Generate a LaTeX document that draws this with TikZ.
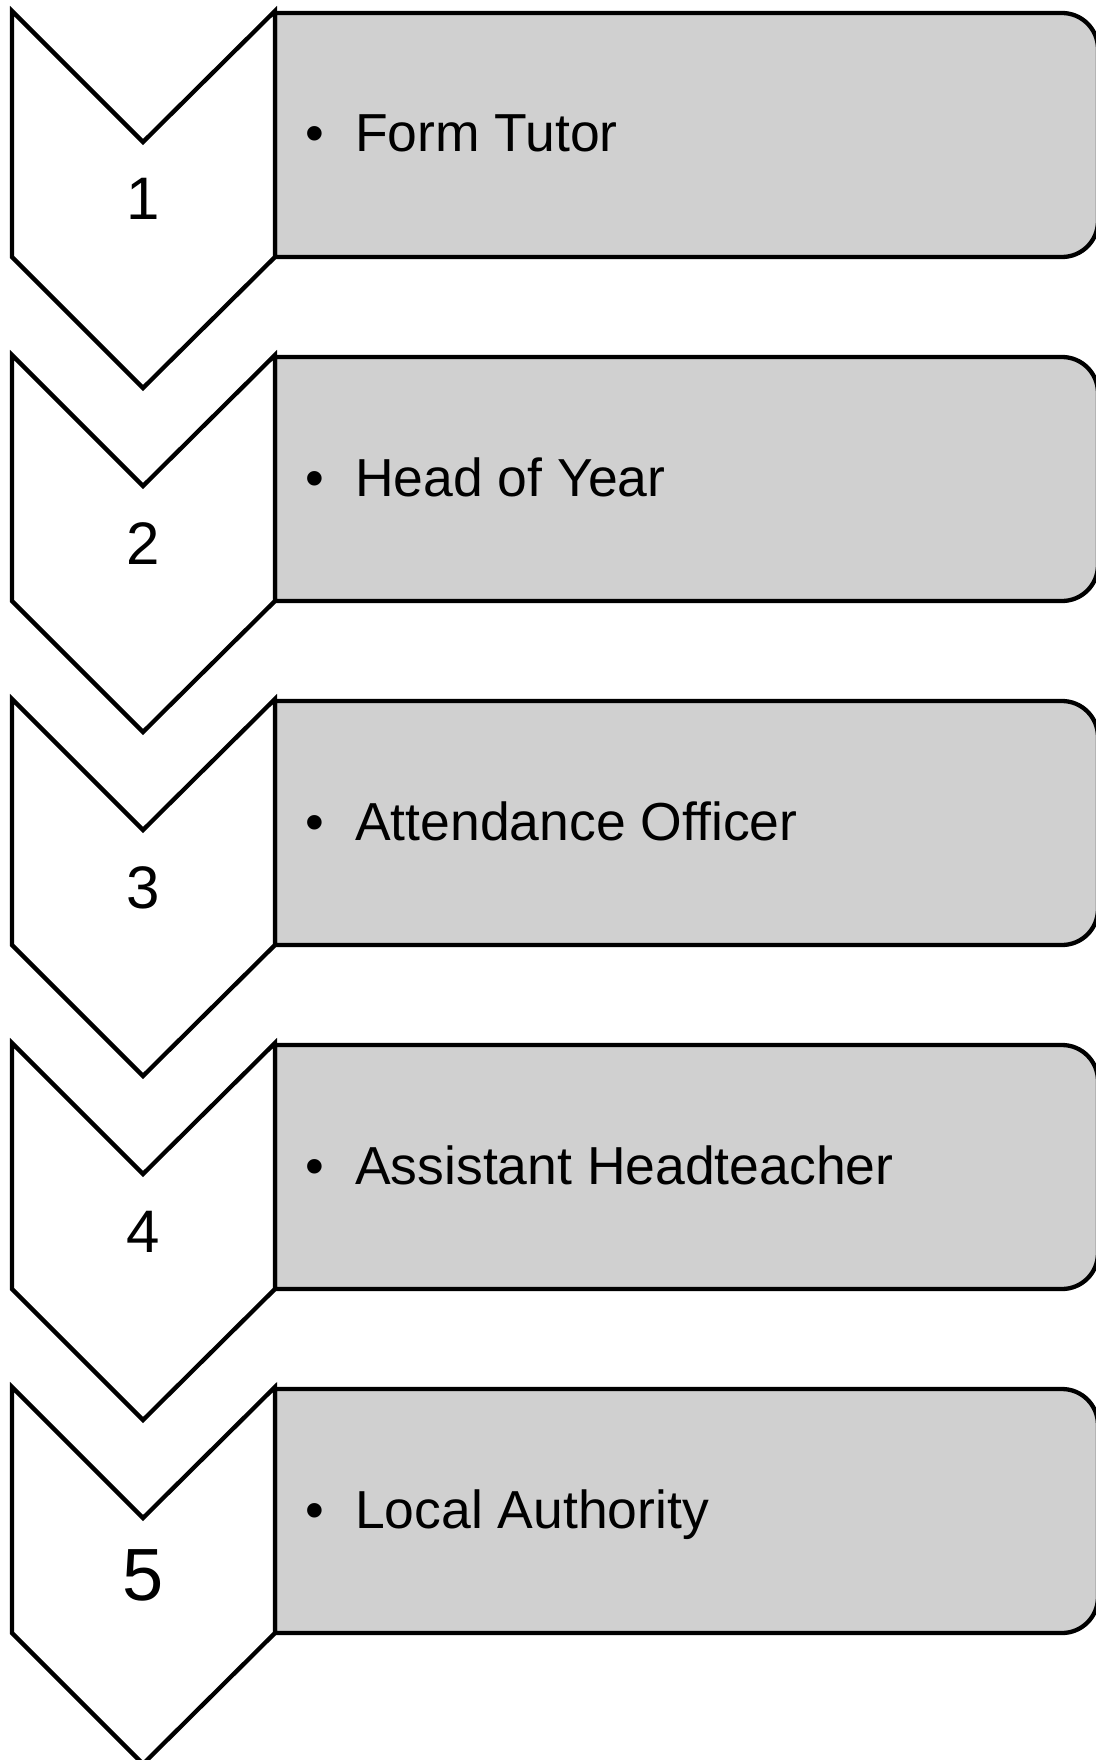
\documentclass[tikz,border=0pt]{standalone}
\usepackage{fontspec}
\setmainfont{Liberation Sans}
\begin{document}
\begin{tikzpicture}[x=1pt,y=1pt,
  chev/.style={draw=black,fill=white,line width=4.3pt,line join=miter},
  boxshape/.style={draw=black,fill=boxgray,line width=4.3pt},
  numtext/.style={anchor=base,inner sep=0pt,font=\fontsize{60}{60}\selectfont},
  itemtext/.style={anchor=base west,inner sep=0pt,font=\fontsize{53.5}{60}\selectfont},
  bullettext/.style={anchor=base,inner sep=0pt,font=\fontsize{53.5}{60}\selectfont}]
\definecolor{boxgray}{RGB}{208,208,208}
\useasboundingbox (0,0) rectangle (1095,-1760);
\foreach \i/\t/\lab/\nb/\nsize in {1/11/Form Tutor/209/60,2/355/Head of Year/209/60,3/699/Attendance Officer/209/60,4/1043/Assistant Headteacher/209/60,5/1387/Local Authority/213/74}{
  \draw[boxshape] (275,-\t-2) -- (1062,-\t-2) arc[start angle=90,end angle=0,radius=36]
     -- (1098,-\t-210) arc[start angle=0,end angle=-90,radius=36] -- (275,-\t-246) -- cycle;
  \draw[chev] (12,-\t) -- (143,-\t-131) -- (275,-\t) -- (275,-\t-246) -- (143,-\t-377) -- (12,-\t-246) -- cycle;
  \node[numtext,font=\fontsize{\nsize}{\nsize}\selectfont] (num\i) at (143,-\t-\nb) {\i};
  \node[bullettext] (bul\i) at (315,-\t-141) {•};
  \node[itemtext] (item\i) at (355,-\t-141) {\lab};
}
\end{tikzpicture}
\end{document}
